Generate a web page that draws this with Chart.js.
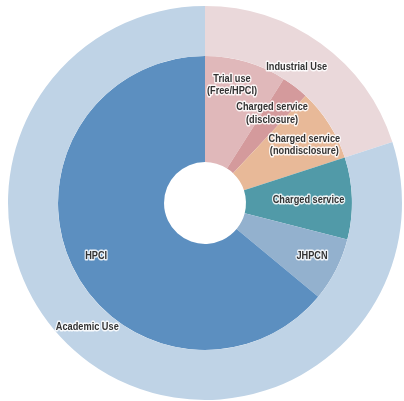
<!DOCTYPE html>
<html lang="en">
<head>
  <meta charset="UTF-8" />
  <title>Usage breakdown</title>
  <script src="https://cdn.jsdelivr.net/npm/chart.js"></script>
  <style>
    body {
      margin: 0;
      background: #ffffff;
    }
    canvas {
      display: block;
    }
  </style>
</head>
<body>
  <canvas id="usageChart" width="404" height="401"></canvas>

  <script>
    // outer ring: use category
    const outerLabels = [['Industrial Use'], ['Academic Use']];
    const outerValues = [20, 80];
    const outerColors = ['#ead8da', '#bfd3e6'];

    // inner pie: individual programs
    const innerLabels = [
      ['Trial use', '(Free/HPCI)'],
      ['Charged service', '(disclosure)'],
      ['Charged service', '(nondisclosure)'],
      ['Charged service'],
      ['JHPCN'],
      ['HPCI']
    ];
    const innerValues = [9, 3, 8, 9, 7, 64];
    const innerColors = ['#e0b8ba', '#d49a9c', '#e8b998', '#519aa8', '#93b1ce', '#5c8fc0'];

    // draws the slice names with a white halo, in each arc
    const sliceLabels = {
      id: 'sliceLabels',
      afterDatasetsDraw(chart) {
        const ctx = chart.ctx;
        const squeeze = 0.8; // narrow type look
        ctx.save();
        ctx.font = 'bold 11.5px "Liberation Sans", Arial, sans-serif';
        ctx.textAlign = 'center';
        ctx.textBaseline = 'middle';
        ctx.lineJoin = 'round';
        chart.data.datasets.forEach((ds, di) => {
          const meta = chart.getDatasetMeta(di);
          meta.data.forEach((arc, i) => {
            const p = arc.getProps(['x', 'y', 'startAngle', 'endAngle', 'innerRadius', 'outerRadius']);
            const a = (p.startAngle + p.endAngle) / 2 + ds.labelShift[i] * Math.PI / 180;
            const r = p.innerRadius + (p.outerRadius - p.innerRadius) * ds.labelFrac[i];
            const x = p.x + Math.cos(a) * r;
            const y = p.y + Math.sin(a) * r;
            const lines = ds.names[i];
            const lh = 12.5;
            lines.forEach((t, k) => {
              const ly = y + (k - (lines.length - 1) / 2) * lh;
              ctx.save();
              ctx.translate(x, ly);
              ctx.scale(squeeze, 1);
              ctx.strokeStyle = 'rgba(255,255,255,0.85)';
              ctx.lineWidth = 3;
              ctx.strokeText(t, 0, 0);
              ctx.fillStyle = '#333333';
              ctx.fillText(t, 0, 0);
              ctx.restore();
            });
          });
        });
        ctx.restore();
      }
    };

    new Chart(document.getElementById('usageChart').getContext('2d'), {
      type: 'doughnut',
      data: {
        datasets: [
          {
            data: outerValues,
            backgroundColor: outerColors,
            borderWidth: 0,
            weight: 50,
            names: outerLabels,
            labelFrac: [0.34, 0.48],
            labelShift: [-2, 7.5]
          },
          {
            data: innerValues,
            backgroundColor: innerColors,
            borderWidth: 0,
            weight: 106,
            names: innerLabels,
            labelFrac: [0.755, 0.67, 0.7, 0.59, 0.74, 0.755],
            labelShift: [-3.3, -1, 2, 0, -0.7, -0.7]
          }
        ]
      },
      options: {
        responsive: false,
        animation: false,
        cutout: '20.8%',
        layout: { padding: { left: 8, right: 2, top: 6, bottom: 1 } },
        plugins: {
          legend: { display: false },
          tooltip: { enabled: false }
        }
      },
      plugins: [sliceLabels]
    });
  </script>
</body>
</html>
